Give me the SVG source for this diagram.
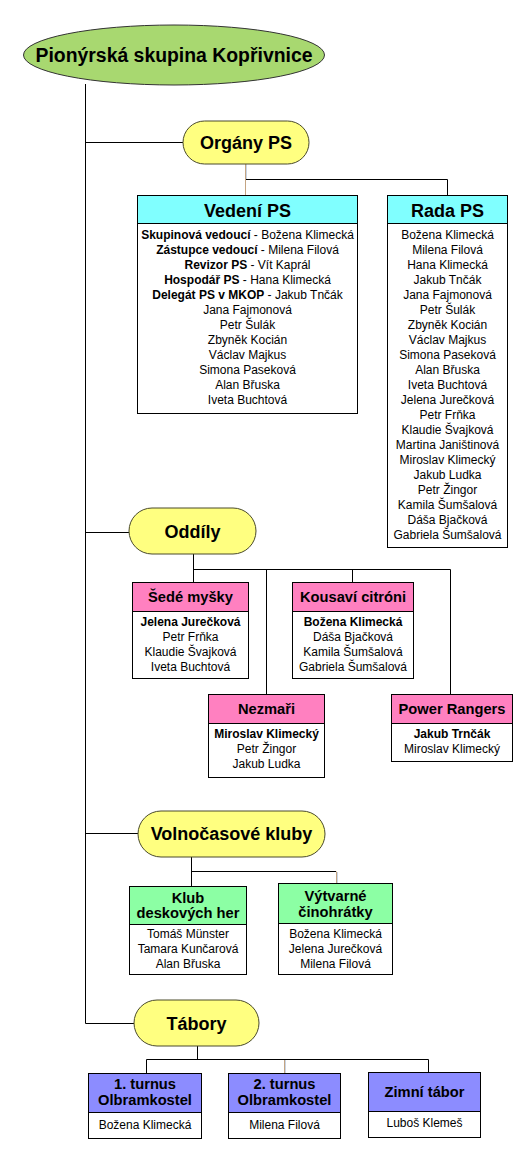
<svg xmlns="http://www.w3.org/2000/svg" width="529" height="1157" viewBox="0 0 529 1157">
<style>
text{font-family:"Liberation Sans",Arial,sans-serif;text-anchor:middle;fill:#000}
.t{font-size:18px;font-weight:bold}
.h{font-size:14.7px;font-weight:bold}
.b{font-size:12px}
.bb{font-weight:bold}
.box{fill:#fff;stroke:#000;stroke-width:1}
.hd{stroke:#000;stroke-width:1}
.pill{fill:#FFFF80;stroke:#4a4a2a;stroke-width:1}
.cyan{fill:#80FFFF}
.pink{fill:#FF80C0}
.green{fill:#8CFFA4}
.blue{fill:#8C8CFF}
#connectors line,#connectors polyline{stroke:#000;stroke-width:1;fill:none}
#connectors .tan{stroke:#C4A482}
#connectors .tanb{stroke:#C8D4E4}
</style>
<rect width="529" height="1157" fill="#fff"/>
<g id="connectors">
<line x1="85.5" y1="84" x2="85.5" y2="1023.5"/>
<line x1="85.5" y1="142.5" x2="183" y2="142.5"/>
<line x1="85.5" y1="532.5" x2="129" y2="532.5"/>
<line x1="85.5" y1="833.5" x2="138" y2="833.5"/>
<line x1="85.5" y1="1023.5" x2="134" y2="1023.5"/>
<line class="tan" x1="245.5" y1="164" x2="245.5" y2="195"/>
<line class="tanb" x1="246.5" y1="164" x2="246.5" y2="179"/>
<polyline points="246,179.5 447.5,179.5 447.5,195"/>
<line x1="193.5" y1="554" x2="193.5" y2="582"/>
<line x1="193.5" y1="569.5" x2="450.5" y2="569.5"/>
<line x1="266.5" y1="569.5" x2="266.5" y2="694"/>
<line x1="352.5" y1="569.5" x2="352.5" y2="582"/>
<line x1="450.5" y1="569.5" x2="450.5" y2="694"/>
<line x1="191.5" y1="857" x2="191.5" y2="886"/>
<line x1="191.5" y1="871.5" x2="336" y2="871.5"/>
<line class="tan" x1="336.5" y1="871.5" x2="336.5" y2="883"/>
<line class="tanb" x1="337.5" y1="872" x2="337.5" y2="883"/>
<line x1="197.5" y1="1046" x2="197.5" y2="1059.5"/>
<polyline points="146.5,1073 146.5,1059.5 428.5,1059.5 428.5,1072"/>
<line class="tan" x1="284.5" y1="1060" x2="284.5" y2="1073"/>
<line class="tanb" x1="285.5" y1="1060" x2="285.5" y2="1073"/>
</g>
<g id="root">
<ellipse cx="174" cy="55" rx="150.5" ry="30" fill="#A8D870" stroke="#333" stroke-width="1"/>
<text x="174" y="62" style="font-size:19.4px;font-weight:bold">Pionýrská skupina Kopřivnice</text>
</g>
<g id="organy">
<rect class="pill" x="183" y="121" width="126" height="43" rx="21.5"/>
<text class="t" x="246" y="148.5">Orgány PS</text>
</g>
<g id="vedeni">
<rect class="box" x="137.5" y="195.5" width="220" height="218"/>
<rect class="hd cyan" x="137.5" y="195.5" width="220" height="28"/>
<text class="t" x="247.5" y="216.5">Vedení PS</text>
<text class="b" x="247.5" y="239.3"><tspan class="bb">Skupinová vedoucí</tspan> - Božena Klimecká</text>
<text class="b" x="247.5" y="254.3"><tspan class="bb">Zástupce vedoucí</tspan> - Milena Filová</text>
<text class="b" x="247.5" y="269.3"><tspan class="bb">Revizor PS</tspan> - Vít Kaprál</text>
<text class="b" x="247.5" y="284.3"><tspan class="bb">Hospodář PS</tspan> - Hana Klimecká</text>
<text class="b" x="247.5" y="299.3"><tspan class="bb">Delegát PS v MKOP</tspan> - Jakub Tnčák</text>
<text class="b" x="247.5" y="314.3">Jana Fajmonová</text>
<text class="b" x="247.5" y="329.3">Petr Šulák</text>
<text class="b" x="247.5" y="344.3">Zbyněk Kocián</text>
<text class="b" x="247.5" y="359.3">Václav Majkus</text>
<text class="b" x="247.5" y="374.3">Simona Paseková</text>
<text class="b" x="247.5" y="389.3">Alan Břuska</text>
<text class="b" x="247.5" y="404.3">Iveta Buchtová</text>
</g>
<g id="rada">
<rect class="box" x="387.5" y="195.5" width="120" height="352"/>
<rect class="hd cyan" x="387.5" y="195.5" width="120" height="28"/>
<text class="t" x="447.5" y="216.5">Rada PS</text>
<text class="b" x="447.5" y="239.3">Božena Klimecká</text>
<text class="b" x="447.5" y="254.3">Milena Filová</text>
<text class="b" x="447.5" y="269.3">Hana Klimecká</text>
<text class="b" x="447.5" y="284.3">Jakub Tnčák</text>
<text class="b" x="447.5" y="299.3">Jana Fajmonová</text>
<text class="b" x="447.5" y="314.3">Petr Šulák</text>
<text class="b" x="447.5" y="329.3">Zbyněk Kocián</text>
<text class="b" x="447.5" y="344.3">Václav Majkus</text>
<text class="b" x="447.5" y="359.3">Simona Paseková</text>
<text class="b" x="447.5" y="374.3">Alan Břuska</text>
<text class="b" x="447.5" y="389.3">Iveta Buchtová</text>
<text class="b" x="447.5" y="404.3">Jelena Jurečková</text>
<text class="b" x="447.5" y="419.3">Petr Frňka</text>
<text class="b" x="447.5" y="434.3">Klaudie Švajková</text>
<text class="b" x="447.5" y="449.3">Martina Janištinová</text>
<text class="b" x="447.5" y="464.3">Miroslav Klimecký</text>
<text class="b" x="447.5" y="479.3">Jakub Ludka</text>
<text class="b" x="447.5" y="494.3">Petr Žingor</text>
<text class="b" x="447.5" y="509.3">Kamila Šumšalová</text>
<text class="b" x="447.5" y="524.3">Dáša Bjačková</text>
<text class="b" x="447.5" y="539.3">Gabriela Šumšalová</text>
</g>
<g id="oddily">
<rect class="pill" x="129" y="508" width="127" height="46" rx="23"/>
<text class="t" x="192.5" y="537.5">Oddíly</text>
</g>
<g id="sede-mysky">
<rect class="box" x="132.5" y="582.5" width="116" height="96"/>
<rect class="hd pink" x="132.5" y="582.5" width="116" height="29"/>
<text class="h" x="190.5" y="602">Šedé myšky</text>
<text class="b bb" x="190.5" y="626.3">Jelena Jurečková</text>
<text class="b" x="190.5" y="641.3">Petr Frňka</text>
<text class="b" x="190.5" y="656.3">Klaudie Švajková</text>
<text class="b" x="190.5" y="671.3">Iveta Buchtová</text>
</g>
<g id="kousavi-citroni">
<rect class="box" x="292.5" y="582.5" width="121" height="96"/>
<rect class="hd pink" x="292.5" y="582.5" width="121" height="29"/>
<text class="h" x="353" y="602">Kousaví citróni</text>
<text class="b bb" x="353" y="626.3">Božena Klimecká</text>
<text class="b" x="353" y="641.3">Dáša Bjačková</text>
<text class="b" x="353" y="656.3">Kamila Šumšalová</text>
<text class="b" x="353" y="671.3">Gabriela Šumšalová</text>
</g>
<g id="nezmari">
<rect class="box" x="208.5" y="694.5" width="116" height="83"/>
<rect class="hd pink" x="208.5" y="694.5" width="116" height="29"/>
<text class="h" x="266.5" y="714">Nezmaři</text>
<text class="b bb" x="266.5" y="738.3">Miroslav Klimecký</text>
<text class="b" x="266.5" y="753.3">Petr Žingor</text>
<text class="b" x="266.5" y="768.3">Jakub Ludka</text>
</g>
<g id="power-rangers">
<rect class="box" x="391.5" y="694.5" width="121" height="67"/>
<rect class="hd pink" x="391.5" y="694.5" width="121" height="29"/>
<text class="h" x="452" y="714">Power Rangers</text>
<text class="b bb" x="452" y="738.3">Jakub Trnčák</text>
<text class="b" x="452" y="753.3">Miroslav Klimecký</text>
</g>
<g id="volnocasove-kluby">
<rect class="pill" x="138" y="811" width="187" height="46" rx="23"/>
<text class="t" x="231.5" y="839.5">Volnočasové kluby</text>
</g>
<g id="klub-deskovych-her">
<rect class="box" x="129.5" y="886.5" width="117" height="88"/>
<rect class="hd green" x="129.5" y="886.5" width="117" height="38"/>
<text class="h" x="188" y="903.3">Klub</text>
<text class="h" x="188" y="918.3">deskových her</text>
<text class="b" x="188" y="938.3">Tomáš Münster</text>
<text class="b" x="188" y="953.3">Tamara Kunčarová</text>
<text class="b" x="188" y="968.3">Alan Břuska</text>
</g>
<g id="vytvarne-cinohratky">
<rect class="box" x="278.5" y="883.5" width="114" height="91"/>
<rect class="hd green" x="278.5" y="883.5" width="114" height="40"/>
<text class="h" x="335.5" y="901.3">Výtvarné</text>
<text class="h" x="335.5" y="917.3">činohrátky</text>
<text class="b" x="335.5" y="938.3">Božena Klimecká</text>
<text class="b" x="335.5" y="953.3">Jelena Jurečková</text>
<text class="b" x="335.5" y="968.3">Milena Filová</text>
</g>
<g id="tabory">
<rect class="pill" x="134" y="1000" width="125" height="46" rx="23"/>
<text class="t" x="196.5" y="1029.5">Tábory</text>
</g>
<g id="turnus-1">
<rect class="box" x="88.5" y="1073.5" width="113" height="65"/>
<rect class="hd blue" x="88.5" y="1073.5" width="113" height="39"/>
<text class="h" x="145" y="1089.3">1. turnus</text>
<text class="h" x="145" y="1105.3">Olbramkostel</text>
<text class="b" x="145" y="1129.3">Božena Klimecká</text>
</g>
<g id="turnus-2">
<rect class="box" x="228.5" y="1073.5" width="112" height="65"/>
<rect class="hd blue" x="228.5" y="1073.5" width="112" height="39"/>
<text class="h" x="284.5" y="1089.3">2. turnus</text>
<text class="h" x="284.5" y="1105.3">Olbramkostel</text>
<text class="b" x="284.5" y="1129.3">Milena Filová</text>
</g>
<g id="zimni-tabor">
<rect class="box" x="368.5" y="1072.5" width="112" height="65"/>
<rect class="hd blue" x="368.5" y="1072.5" width="112" height="39"/>
<text class="h" x="424.5" y="1097.3">Zimní tábor</text>
<text class="b" x="424.5" y="1127.3">Luboš Klemeš</text>
</g>
</svg>
